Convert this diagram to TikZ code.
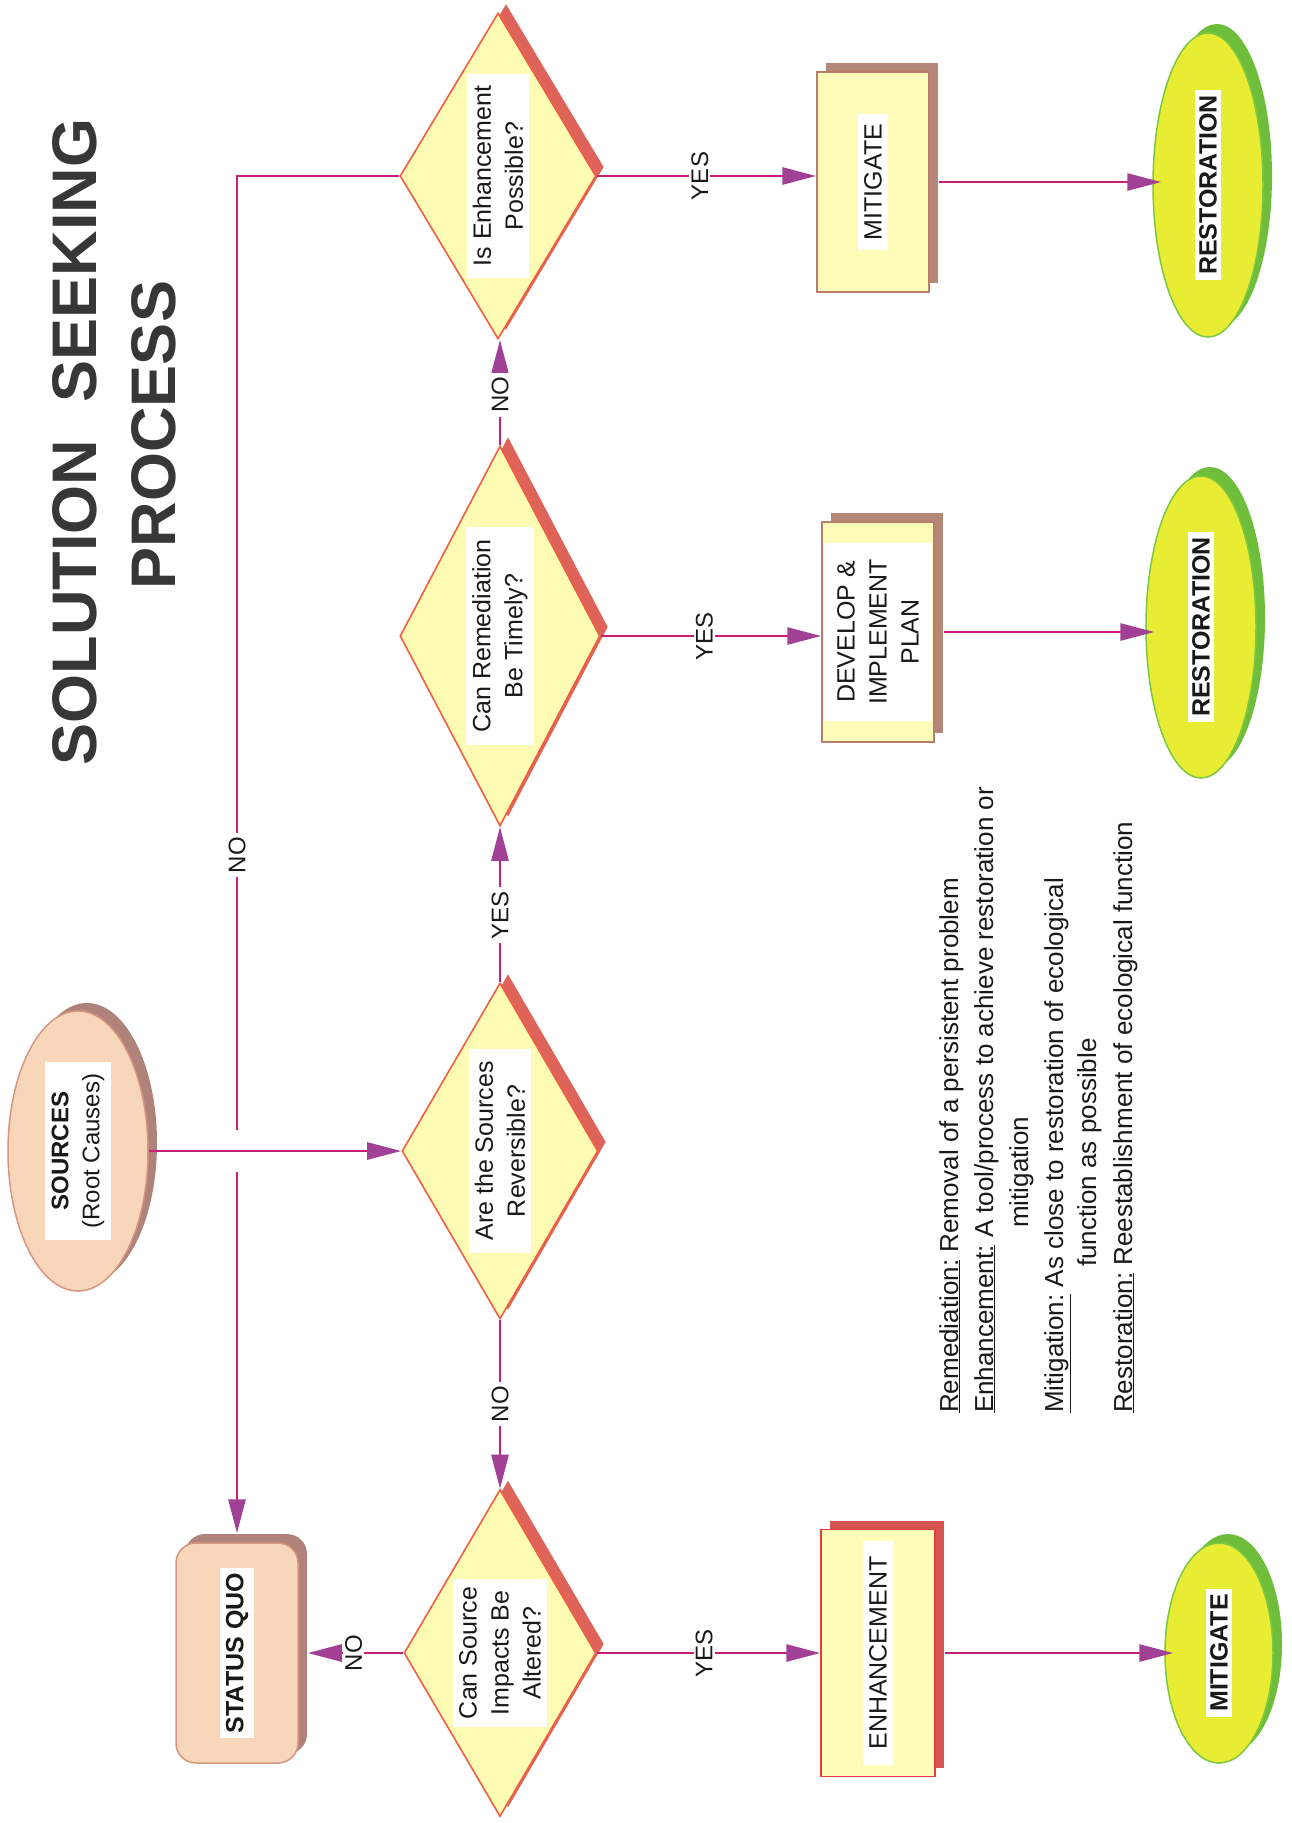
\documentclass[tikz,border=0pt]{standalone}
\usepackage{fontspec}
\setmainfont{Liberation Sans}
\usetikzlibrary{shapes.geometric,arrows.meta,shadows}
\definecolor{linec}{RGB}{200,30,120}
\definecolor{arrowc}{RGB}{160,65,150}
\definecolor{textc}{RGB}{25,25,25}
\definecolor{titlec}{RGB}{55,55,55}
\definecolor{dfill}{RGB}{254,252,180}
\definecolor{dborder}{RGB}{240,95,65}
\definecolor{dshadow}{RGB}{222,100,90}
\definecolor{bfill}{RGB}{254,252,185}
\definecolor{bborder}{RGB}{185,125,105}
\definecolor{bshadow}{RGB}{180,135,120}
\definecolor{eborder}{RGB}{230,60,60}
\definecolor{eshadow}{RGB}{215,85,80}
\definecolor{yfill}{RGB}{232,236,50}
\definecolor{gborder}{RGB}{125,200,65}
\definecolor{gshadow}{RGB}{110,190,60}
\definecolor{peach}{RGB}{248,214,185}
\definecolor{pborder}{RGB}{215,150,130}
\definecolor{pshadow}{RGB}{175,130,122}
\begin{document}
\begin{tikzpicture}[x=1pt,y=-1pt,
  lfont/.style={font=\fontsize{25}{32}\selectfont},
  wbox/.style={lfont, fill=white, rotate=90, align=center, text=textc, inner xsep=12pt, inner ysep=6pt},
  lbl/.style={fill=white, rotate=90, font=\fontsize{24}{28}\selectfont, text=textc, inner xsep=4pt, inner ysep=2pt},
  leg/.style={rotate=90, font=\fontsize{26}{30}\selectfont, text=textc, inner sep=0pt},
  ttl/.style={rotate=90, font=\fontsize{63}{70}\selectfont\bfseries, text=titlec, inner sep=0pt},
  conn/.style={draw=linec, line width=2.8pt, -{Triangle[length=34pt,width=17pt,fill=arrowc,color=arrowc]}},
  plainline/.style={draw=linec, line width=2.8pt},
  dia/.style={diamond, draw=dborder, line width=1.6pt, fill=dfill, inner sep=0pt,
    general shadow={shadow xshift=8pt, shadow yshift=9pt, fill=dshadow, draw=none}},
  abox/.style={rectangle, draw=bborder, line width=1.5pt, fill=bfill, inner sep=0pt,
    minimum width=112pt, minimum height=220pt,
    general shadow={shadow xshift=9pt, shadow yshift=9pt, fill=bshadow, draw=none}},
  term/.style={ellipse, draw=gborder, line width=1.5pt, fill=yfill, inner sep=0pt, minimum width=110pt,
    general shadow={shadow xshift=9pt, shadow yshift=9pt, fill=gshadow, draw=none}}
]
\useasboundingbox[fill=white] (0,0) rectangle (1292,1823);

% title
\node[ttl] (t1) at (74.5,442) {SOLUTION\hspace{0.6em}SEEKING};
\node[ttl] (t2) at (153.5,435) {PROCESS};

% sources and status quo
\node[ellipse, draw=pborder, line width=1.5pt, fill=peach, inner sep=0pt,
  minimum width=140pt, minimum height=280pt,
  general shadow={shadow xshift=9pt, shadow yshift=8pt, fill=pshadow, draw=none}] (src) at (78,1151) {};
\node[wbox, font=\fontsize{24}{31}\selectfont, inner xsep=12pt, inner ysep=7pt] (srcT) at (src) {\textbf{SOURCES}\\(Root Causes)};

\node[rectangle, rounded corners=20pt, draw=pborder, line width=1.5pt, fill=peach, inner sep=0pt,
  minimum width=122pt, minimum height=220pt,
  general shadow={shadow xshift=9pt, shadow yshift=9pt, fill=pshadow, draw=none}] (sq) at (237,1653) {};
\node[wbox, inner xsep=5pt, inner ysep=6pt] (sqT) at (sq) {\textbf{STATUS QUO}};

% decisions
\node[dia, minimum width=196pt, minimum height=336pt] (srcdia) at (500,1151) {};
\node[wbox] (srcdiaT) at (srcdia) {Are the Sources\\Reversible?};
\node[dia, minimum width=192pt, minimum height=327pt] (impdia) at (500,1653) {};
\node[wbox, inner xsep=8pt] (impdiaT) at (impdia) {Can Source\\Impacts Be\\Altered?};
\node[dia, minimum width=200pt, minimum height=380pt] (remdia) at (500,636) {};
\node[wbox] (remdiaT) at (remdia) {Can Remediation\\Be Timely?};
\node[dia, minimum width=196pt, minimum height=326pt] (enhdia) at (498,176) {};
\node[wbox] (enhdiaT) at (enhdia) {Is Enhancement\\Possible?};

% actions
\node[abox] (mit1) at (873,182) {};
\node[wbox, inner xsep=10pt] (mit1T) at (mit1) {MITIGATE};
\node[abox] (dev) at (878,632) {};
\node[wbox, minimum width=178pt, minimum height=108pt, inner ysep=2pt] (devT) at (dev) {DEVELOP \&\\IMPLEMENT\\PLAN};
\node[abox, draw=eborder, minimum width=114pt, minimum height=247pt,
  general shadow={shadow xshift=9pt, shadow yshift=9pt, fill=eshadow, draw=none}] (enhb) at (878,1653) {};
\node[wbox, inner xsep=15pt] (enhbT) at (enhb) {ENHANCEMENT};

% terminals
\node[term, minimum height=304pt] (rest1) at (1208,185) {};
\node[wbox, inner xsep=5pt, inner ysep=4pt] (rest1T) at (rest1) {\textbf{RESTORATION}};
\node[term, minimum height=302pt] (rest2) at (1201,627) {};
\node[wbox, inner xsep=5pt, inner ysep=4pt] (rest2T) at (rest2) {\textbf{RESTORATION}};
\node[term, minimum width=108pt, minimum height=220pt] (mit2) at (1219,1653) {};
\node[wbox, inner xsep=5pt, inner ysep=4pt] (mit2T) at (mit2) {\textbf{MITIGATE}};

% connectors
\coordinate (nA) at (237,176);
\coordinate (nB) at (237,1130);
\coordinate (nC) at (237,1172);
\draw[plainline] (enhdia.west) -- (enhdia.west -| nA) -- (nB) node[lbl, pos=0.712] (noA) {NO};
\draw[conn] (nC) -- ([yshift=9pt]sq.north);

\draw[conn] (src.east) -- (srcdia.west);
\draw[conn] (srcdia.north) -- (remdia.south) node[lbl, pos=0.43] (yesA) {YES};
\draw[conn] (srcdia.south) -- (impdia.north) node[lbl, pos=0.5] (noB) {NO};
\draw[conn] (remdia.north) -- (remdia.north |- enhdia.south) node[lbl, pos=0.48] (noC) {NO};
\draw[conn] (impdia.west) -- ([xshift=9pt]sq.east) node[lbl, pos=0.52] (noD) {NO};

\draw[conn] (enhdia.east) -- (enhdia.east -| mit1.west) node[lbl, pos=0.47] (yesB) {YES};
\draw[conn] (remdia.east) -- (remdia.east -| dev.west) node[lbl, pos=0.47] (yesC) {YES};
\draw[conn] (impdia.east) -- (impdia.east -| enhb.west) node[lbl, pos=0.48] (yesD) {YES};

\draw[conn] ([xshift=9pt]mit1.east) -- ([xshift=9pt]mit1.east -| rest1.west);
\draw[conn] ([xshift=9pt]dev.east) -- ([xshift=9pt]dev.east -| rest2.west);
\draw[conn] ([xshift=9pt]enhb.east) -- ([xshift=9pt]enhb.east -| mit2.west);

% legend
\node[leg, anchor=base west] (lg1) at (958,1413) {\underline{Remediation:} Removal of a persistent problem};
\node[leg, anchor=base west] (lg2) at (993,1413) {\underline{Enhancement:} A tool/process to achieve restoration or};
\node[leg, anchor=base west] (lg3) at (1028,1228) {mitigation};
\node[leg, anchor=base west] (lg4) at (1063,1413) {\underline{Mitigation:} As close to restoration of ecological};
\node[leg, anchor=base west] (lg5) at (1096,1267) {function as possible};
\node[leg, anchor=base west] (lg6) at (1132,1413) {\underline{Restoration:} Reestablishment of ecological function};
\end{tikzpicture}
\end{document}
